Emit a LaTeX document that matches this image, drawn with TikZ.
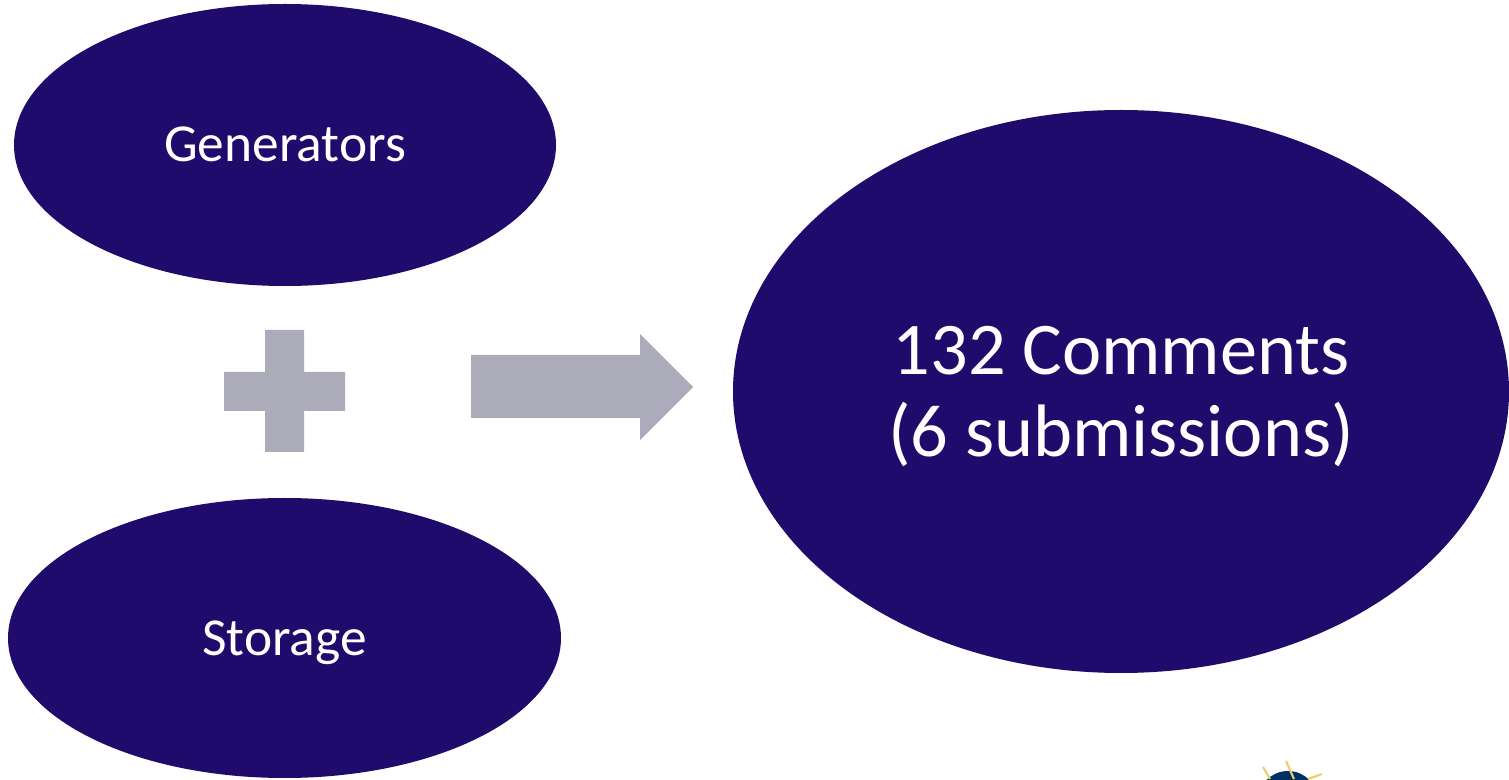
\documentclass[tikz,border=0pt]{standalone}
\usepackage{fontspec}
\setmainfont{Carlito}
\usetikzlibrary{shapes.geometric}
\definecolor{blobblue}{RGB}{31,11,108}
\definecolor{signgray}{RGB}{172,171,186}
\definecolor{logoblue}{RGB}{0,48,100}
\definecolor{logoray}{RGB}{240,205,100}
\tikzset{
	blob/.style={ellipse, fill=blobblue, text=white, inner sep=0pt, align=center},
	sign/.style={fill=signgray},
	ray/.style={logoray, line width=1.2pt}
}
\begin{document}
\begin{tikzpicture}

	\useasboundingbox (0,0) rectangle (30.18,15.58);
	
	\node [blob, minimum width=10.84cm, minimum height=5.64cm, font=\fontsize{30.4}{36}\selectfont] (generators) at (5.70,12.68) {\raisebox{1pt}{Generators}};
	\node [blob, minimum width=11.06cm, minimum height=5.60cm, font=\fontsize{30.4}{36}\selectfont] (storage) at (5.69,2.82) {\rule{0pt}{25.3pt}Storage};
	\node [blob, minimum width=15.52cm, minimum height=11.26cm, font=\fontsize{42.3}{46.5}\selectfont] (comments) at (22.42,7.75) {\rule{0pt}{33pt}132 Comments\\(6 submissions)};
	
	\fill [sign] (5.30,8.98) -- (6.08,8.98) -- (6.08,8.14) -- (6.90,8.14) -- (6.90,7.36) -- (6.08,7.36) -- (6.08,6.54) -- (5.30,6.54) -- (5.30,7.36) -- (4.48,7.36) -- (4.48,8.14) -- (5.30,8.14) -- cycle;
	\fill [sign] (9.42,8.48) -- (12.80,8.48) -- (12.80,8.90) -- (13.86,7.84) -- (12.80,6.78) -- (12.80,7.22) -- (9.42,7.22) -- cycle;
	
	\begin{scope}
		\clip (0,0) rectangle (30.18,15.58);
		\fill [logoblue] (25.76,-0.44) circle [radius=0.6];
		\draw [ray] (25.26,0.24) -- (25.40,0);
		\draw [ray] (25.72,0.36) -- (25.88,0);
		\draw [ray] (26.44,0.10) -- (26.16,0);
	\end{scope}
\end{tikzpicture}
\end{document}
